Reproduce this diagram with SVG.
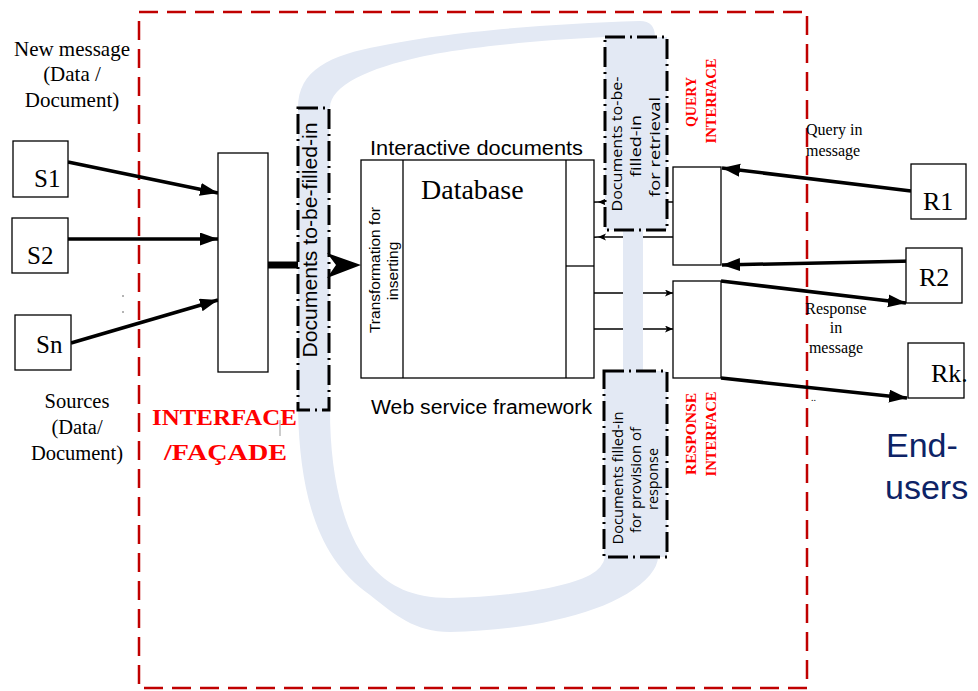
<svg xmlns="http://www.w3.org/2000/svg" width="978" height="691" viewBox="0 0 978 691">
<style>
.box{fill:#fff;stroke:#000;stroke-width:1.3}
.serif{font-family:"Liberation Serif","Times New Roman",serif;fill:#000}
.sans{font-family:"Liberation Sans",Arial,sans-serif;fill:#000}
.soft{font-family:"Open Sans","Noto Sans",sans-serif;fill:#000}
.red{font-family:"Liberation Serif","Times New Roman",serif;fill:#ff0000;font-weight:bold}
.thick{stroke:#000;stroke-width:3.5;fill:none}
.thin{stroke:#000;stroke-width:1.3;fill:none}
.band{fill:#e3e9f4}
.doc{fill:#e3e9f4;stroke:#000;stroke-width:3;stroke-dasharray:20 5 2 5}
</style>
<defs>
<marker id="big" markerUnits="userSpaceOnUse" markerWidth="20" markerHeight="14" refX="18" refY="6.5" orient="auto">
<path d="M0,0 L18,6.5 L0,13 z" fill="#000"/>
</marker>
<marker id="small" markerUnits="userSpaceOnUse" markerWidth="10" markerHeight="8" refX="8" refY="3.5" orient="auto">
<path d="M0,0 L8,3.5 L0,7 L2,3.5 z" fill="#000"/>
</marker>
</defs>

<rect x="139" y="12" width="668" height="676" fill="none" stroke="#c00000" stroke-width="2.5" stroke-dasharray="19 9"/>

<g id="connectors">
<line class="thick" x1="68" y1="162" x2="218" y2="193" marker-end="url(#big)"/>
<line class="thick" x1="68" y1="239" x2="218" y2="239" marker-end="url(#big)"/>
<line class="thick" x1="71" y1="343" x2="218" y2="300" marker-end="url(#big)"/>
<line x1="268" y1="265" x2="300" y2="265" stroke="#000" stroke-width="7"/>
<line class="thick" x1="911" y1="191" x2="722" y2="168" marker-end="url(#big)"/>
<line class="thick" x1="913" y1="261" x2="722" y2="265" marker-end="url(#big)"/>
<line class="thick" x1="721" y1="281" x2="906" y2="303" marker-end="url(#big)"/>
<line class="thick" x1="721" y1="378" x2="907" y2="398" marker-end="url(#big)"/>
<line class="thin" x1="673" y1="202" x2="598" y2="202" marker-end="url(#small)"/>
<line class="thin" x1="673" y1="237" x2="598" y2="237" marker-end="url(#small)"/>
<path class="thin" d="M598,202 C530,202 488,232 488,268 C488,302 530,329 594,329"/>
<path class="thin" d="M598,237 C572,237 559,250 559,268 C559,285 572,293 594,293"/>
<line class="thin" x1="594" y1="293" x2="673" y2="293" marker-end="url(#small)"/>
<line class="thin" x1="594" y1="329" x2="673" y2="329" marker-end="url(#small)"/>
<line class="thin" x1="488" y1="262" x2="488" y2="275"/>
<line class="thin" x1="559" y1="262" x2="559" y2="275"/>
</g>

<g id="flow-band">
<path class="band" d="M298,108 C298,70 330,55 380,46 C440,33 540,24 640,21 Q655,21 655,37 L605,37 C520,41 450,50 420,57 C370,68 330,85 330,108 Z"/>
<path class="band" d="M298,410 C300,500 320,560 370,595 C395,615 415,632 450,632 C540,630 620,610 650,575 Q658,565 658,557 L605,557 Q603,568 590,575 C560,590 500,597 450,598 C410,598 390,585 375,570 C345,540 330,480 330,410 Z"/>
<rect class="band" x="623" y="223" width="20" height="150"/>
</g>

<g id="S1"><rect class="box" x="13" y="141" width="55" height="56"/><text class="serif" x="34" y="187" font-size="25">S1</text></g>
<g id="S2"><rect class="box" x="12" y="218" width="56" height="55"/><text class="serif" x="27" y="264" font-size="25">S2</text></g>
<g id="Sn"><rect class="box" x="15" y="315" width="56" height="55"/><text class="serif" x="36" y="353" font-size="25">Sn</text></g>
<g id="dots"><circle cx="123" cy="296" r="0.8" fill="#555"/><circle cx="123" cy="312" r="0.8" fill="#555"/></g>

<g id="new-message" class="serif" font-size="21" text-anchor="middle">
<text x="72" y="56">New message</text>
<text x="72" y="81">(Data /</text>
<text x="72" y="107">Document)</text>
</g>
<g id="sources" class="serif" font-size="20.5" text-anchor="middle">
<text x="77" y="408">Sources</text>
<text x="77" y="434">(Data/</text>
<text x="77" y="460">Document)</text>
</g>

<g id="facade"><rect class="box" x="218" y="153" width="50" height="219"/></g>
<g id="facade-label">
<text class="red" x="152" y="425" font-size="23" textLength="145" lengthAdjust="spacingAndGlyphs">INTERFACE</text>
<text class="red" x="164" y="460" font-size="23" textLength="123" lengthAdjust="spacingAndGlyphs">/FAÇADE</text>
<line x1="280" y1="420" x2="280" y2="436" stroke="#999" stroke-width="1"/>
</g>

<g id="docs-to-fill">
<rect class="doc" x="298" y="108" width="31" height="302"/>
<text class="sans" transform="translate(317,240) rotate(-90)" font-size="21" text-anchor="middle" textLength="235" lengthAdjust="spacingAndGlyphs">Documents to-be-filled-in</text>
</g>
<polygon id="insert-arrow" points="327,253 361,265 327,278 336,265" fill="#000"/>

<g id="interactive-docs">
<text class="sans" x="370" y="155" font-size="20" textLength="213" lengthAdjust="spacingAndGlyphs">Interactive  documents</text>
<rect class="box" x="361" y="160" width="233" height="218" fill="none"/>
<line class="thin" x1="403" y1="160" x2="403" y2="378"/>
<line class="thin" x1="566" y1="160" x2="566" y2="378"/>
<line class="thin" x1="566" y1="266" x2="594" y2="266"/>
<text class="serif" x="421" y="199" font-size="28">Database</text>
<text class="sans" transform="translate(380,270) rotate(-90)" font-size="15.5" text-anchor="middle">Transformation for</text>
<text class="sans" transform="translate(398,271) rotate(-90)" font-size="15.5" text-anchor="middle">inserting</text>
<text class="sans" x="371" y="414" font-size="20" textLength="221" lengthAdjust="spacingAndGlyphs">Web service framework</text>
</g>

<g id="docs-retrieval">
<rect class="doc" x="605" y="37" width="62" height="193"/>
<text class="soft" transform="translate(622,144) rotate(-90)" font-size="15" text-anchor="middle" textLength="135" lengthAdjust="spacingAndGlyphs">Documents to-be-</text>
<text class="soft" transform="translate(641,146) rotate(-90)" font-size="15" text-anchor="middle" textLength="62" lengthAdjust="spacingAndGlyphs">filled-in</text>
<text class="soft" transform="translate(660,147) rotate(-90)" font-size="15" text-anchor="middle" textLength="100" lengthAdjust="spacingAndGlyphs">for retrieval</text>
</g>

<g id="docs-response">
<rect class="doc" x="604" y="371" width="63" height="186"/>
<text class="soft" transform="translate(623,478) rotate(-90)" font-size="14" text-anchor="middle" textLength="133" lengthAdjust="spacingAndGlyphs">Documents filled-in</text>
<text class="soft" transform="translate(641,480) rotate(-90)" font-size="14" text-anchor="middle" textLength="106" lengthAdjust="spacingAndGlyphs">for provision of</text>
<text class="soft" transform="translate(658,479) rotate(-90)" font-size="14" text-anchor="middle" textLength="62" lengthAdjust="spacingAndGlyphs">response</text>
</g>

<g id="query-interface">
<rect class="box" x="673" y="167" width="48" height="98"/>
<text class="red" transform="translate(696,102) rotate(-90)" font-size="14" text-anchor="middle" textLength="50" lengthAdjust="spacingAndGlyphs">QUERY</text>
<text class="red" transform="translate(716,101) rotate(-90)" font-size="14" text-anchor="middle" textLength="85" lengthAdjust="spacingAndGlyphs">INTERFACE</text>
</g>

<g id="response-interface">
<rect class="box" x="673" y="281" width="48" height="97"/>
<text class="red" transform="translate(696,434) rotate(-90)" font-size="14" text-anchor="middle" textLength="82" lengthAdjust="spacingAndGlyphs">RESPONSE</text>
<text class="red" transform="translate(716,434) rotate(-90)" font-size="14" text-anchor="middle" textLength="85" lengthAdjust="spacingAndGlyphs">INTERFACE</text>
</g>

<g id="R1"><rect class="box" x="911" y="164" width="55" height="55"/><text class="serif" x="923" y="210" font-size="26">R1</text></g>
<g id="R2"><rect class="box" x="906" y="248" width="56" height="55"/><text class="serif" x="919" y="286" font-size="26">R2</text></g>
<g id="Rk"><rect class="box" x="908" y="343" width="56" height="55"/><text class="serif" x="931" y="382" font-size="26">Rk.</text></g>

<g id="query-label" class="serif" font-size="16">
<text x="806" y="135">Query in</text>
<text x="806" y="156">message</text>
</g>
<g id="response-label" class="serif" font-size="16" text-anchor="middle">
<text x="836" y="314">Response</text>
<text x="836" y="333">in</text>
<text x="836" y="353">message</text>
</g>
<text class="serif" x="811" y="401" font-size="10">..</text>

<g id="end-users" font-family="'Liberation Sans',Arial,sans-serif" font-size="34" fill="#0d2366">
<text x="886" y="457">End-</text>
<text x="885" y="499">users</text>
</g>
</svg>
